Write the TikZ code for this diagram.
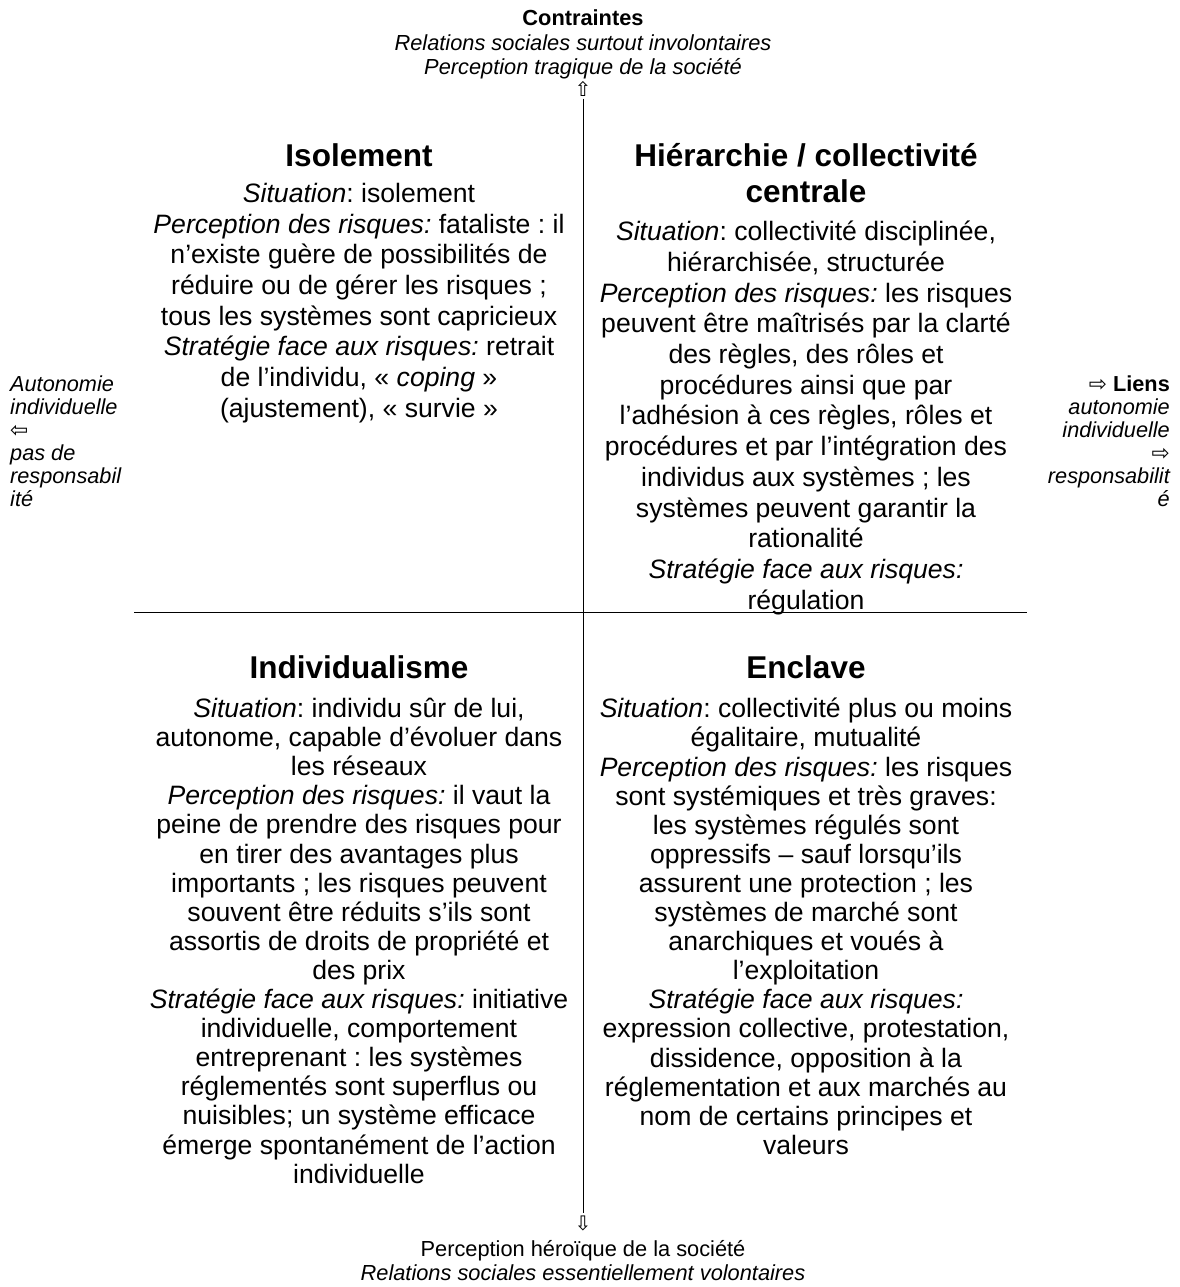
\documentclass[tikz,border=0pt]{standalone}
\usepackage{fontspec}
\usepackage{tikz}
\setmainfont{Liberation Sans}
\newfontfamily\arrowfont{DejaVu Sans}
\usetikzlibrary{positioning}
\frenchspacing
\tikzstyle{quadtitle} = [font=\fontsize{31.5}{36}\selectfont\bfseries,
align=center, inner sep=0pt, anchor=north]
\tikzstyle{quadtext} = [font=\fontsize{26.6}{30.7}\selectfont,
align=center, inner sep=0pt, anchor=north]
\tikzstyle{quadtextlow} = [quadtext, font=\fontsize{26.6}{29.1}\selectfont]
\tikzstyle{axislabel} = [font=\fontsize{21.8}{24.5}\selectfont,
align=center, inner sep=0pt, anchor=north]
\tikzstyle{sidelabel} = [font=\fontsize{21.7}{23}\selectfont\itshape, inner sep=0pt]
\tikzstyle{axisarrow} = [font=\arrowfont\fontsize{20}{20}\selectfont, inner sep=1pt]
\tikzstyle{axisline} = [line width=1pt]

\begin{document}
\begin{tikzpicture}[x=1pt, y=-1pt]
        \useasboundingbox (0,0) rectangle (1179,1287);
        % vertical axis
        \node[axislabel] (topaxis) at (583,10) {\textbf{Contraintes}\\
            \textit{Relations sociales surtout involontaires}\\
            \textit{Perception tragique de la société}};
        \node[axisarrow] (uparr) at (583,89) {⇧};
        \node[axisarrow] (downarr) at (583,1223) {⇩};
        \node[axislabel] (bottomaxis) at (583,1240) {Perception héroïque de la société\\
            \textit{Relations sociales essentiellement volontaires}};
        \draw[axisline, shorten <=1pt, shorten >=1pt] (uparr) -- (downarr);
        % horizontal axis
        \coordinate (hleft) at (134,612);
        \coordinate (hright) at (1027,612);
        \draw[axisline] (hleft) -- (hright);
        \node[sidelabel, align=left, anchor=north west] (leftlab) at (10,376) {Autonomie\\
            individuelle\\
            {\upshape\arrowfont ⇦}\\
            pas de\\
            responsabil\\
            ité};
        \node[sidelabel, align=right, anchor=north east] (rightlab) at (1170,376) {{\upshape\arrowfont ⇨} \textbf{\upshape Liens}\\
            autonomie\\
            individuelle\\
            {\upshape\arrowfont ⇨}\\
            responsabilit\\
            é};
        % quadrants
        \node[quadtitle] (isol) at (359,143) {Isolement};
        \node[quadtext] (isoltext) at (359,183) {\textit{Situation}: isolement\\
            \textit{Perception des risques:} fataliste : il\\
            n’existe guère de possibilités de\\
            réduire ou de gérer les risques ;\\
            tous les systèmes sont capricieux\\
            \textit{Stratégie face aux risques:} retrait\\
            de l’individu, « \textit{coping} »\\
            (ajustement), « survie »};
        \node[quadtitle] (hier) at (806,143) {Hiérarchie / collectivité\\centrale};
        \node[quadtext] (hiertext) at (806,221) {\textit{Situation}: collectivité disciplinée,\\
            hiérarchisée, structurée\\
            \textit{Perception des risques:} les risques\\
            peuvent être maîtrisés par la clarté\\
            des règles, des rôles et\\
            procédures ainsi que par\\
            l’adhésion à ces règles, rôles et\\
            procédures et par l’intégration des\\
            individus aux systèmes ; les\\
            systèmes peuvent garantir la\\
            rationalité\\
            \textit{Stratégie face aux risques:}\\
            régulation};
        \node[quadtitle] (indiv) at (359,655) {Individualisme};
        \node[quadtextlow] (indivtext) at (359,698) {\textit{Situation}: individu sûr de lui,\\
            autonome, capable d’évoluer dans\\
            les réseaux\\
            \textit{Perception des risques:} il vaut la\\
            peine de prendre des risques pour\\
            en tirer des avantages plus\\
            importants ; les risques peuvent\\
            souvent être réduits s’ils sont\\
            assortis de droits de propriété et\\
            des prix\\
            \textit{Stratégie face aux risques:} initiative\\
            individuelle, comportement\\
            entreprenant : les systèmes\\
            réglementés sont superflus ou\\
            nuisibles; un système efficace\\
            émerge spontanément de l’action\\
            individuelle};
        \node[quadtitle] (encl) at (806,655) {Enclave};
        \node[quadtextlow] (encltext) at (806,698) {\textit{Situation}: collectivité plus ou moins\\
            égalitaire, mutualité\\
            \textit{Perception des risques:} les risques\\
            sont systémiques et très graves:\\
            les systèmes régulés sont\\
            oppressifs – sauf lorsqu’ils\\
            assurent une protection ; les\\
            systèmes de marché sont\\
            anarchiques et voués à\\
            l’exploitation\\
            \textit{Stratégie face aux risques:}\\
            expression collective, protestation,\\
            dissidence, opposition à la\\
            réglementation et aux marchés au\\
            nom de certains principes et\\
            valeurs};
    \end{tikzpicture}
\end{document}
